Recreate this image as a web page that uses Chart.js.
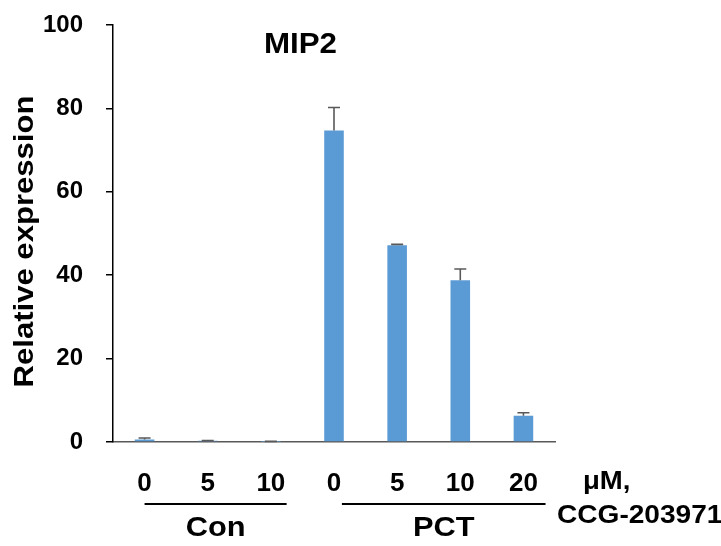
<!DOCTYPE html>
<html>
<head>
<meta charset="utf-8">
<script src="https://cdn.jsdelivr.net/npm/chart.js@4.4.1/dist/chart.umd.min.js"></script>
<style>
html,body{margin:0;padding:0;background:#fff;}
#wrap{width:721px;height:546px;position:relative;}
</style>
</head>
<body>
<div id="wrap"><canvas id="c" width="721" height="546"></canvas></div>
<script>
// Data
const categories = ["0", "5", "10", "0", "5", "10", "20"];
const groups = ["Con", "PCT"];
const groupSizes = [3, 4];
const values = [0.6, 0.3, 0.05, 74.7, 47.2, 38.8, 6.3];
const errors = [0.35, 0.05, 0.1, 5.5, 0.2, 2.7, 0.7];
const yTicks = [0, 20, 40, 60, 80, 100];
const chartTitle = "MIP2";
const yTitle = "Relative expression";
const unitLabel1 = "μM,";
const unitLabel2 = "CCG-203971";

const FONT = "'Liberation Sans', Arial, sans-serif";

function stretchedText(ctx, text, x, y, size, sx, align, rot) {
  ctx.save();
  ctx.translate(x, y);
  if (rot) ctx.rotate(rot);
  ctx.scale(sx, 1);
  ctx.font = "bold " + size + "px " + FONT;
  ctx.textAlign = align;
  ctx.textBaseline = 'middle';
  ctx.fillStyle = '#000';
  ctx.fillText(text, 0, 0);
  ctx.restore();
}

const errorBarPlugin = {
  id: 'errorBars',
  afterDatasetsDraw(chart) {
    const ctx = chart.ctx;
    const x = chart.scales.x, y = chart.scales.y;
    ctx.save();
    ctx.strokeStyle = '#595959';
    ctx.lineWidth = 1.6;
    values.forEach((v, i) => {
      const px = x.getPixelForValue(i);
      const top = y.getPixelForValue(v + errors[i]);
      const base = y.getPixelForValue(v);
      ctx.beginPath();
      ctx.moveTo(px, base);
      ctx.lineTo(px, top);
      ctx.moveTo(px - 6, top);
      ctx.lineTo(px + 6, top);
      ctx.stroke();
    });
    ctx.restore();
  }
};

const decorPlugin = {
  id: 'decor',
  afterDraw(chart) {
    const ctx = chart.ctx;
    const x = chart.scales.x, y = chart.scales.y;
    const area = chart.chartArea;
    // title
    stretchedText(ctx, chartTitle, x.getPixelForValue(2.5) - 2, 45, 29, 1.08, 'center');
    // y axis title
    stretchedText(ctx, yTitle, 25, (y.top + y.bottom) / 2 + 8, 28, 1.11, 'center', -Math.PI / 2);
    // group lines
    const half = (x.getPixelForValue(1) - x.getPixelForValue(0)) / 2;
    const lineY = 504;
    let start = 0;
    groups.forEach((g, gi) => {
      const end = start + groupSizes[gi] - 1;
      const x0 = x.getPixelForValue(start) + (gi === 0 ? 0 : 0.25 * half);
      const x1 = x.getPixelForValue(end) + (gi === 0 ? 0.5 * half : 0.7 * half);
      ctx.save();
      ctx.strokeStyle = '#000';
      ctx.lineWidth = 2;
      ctx.beginPath();
      ctx.moveTo(x0, lineY);
      ctx.lineTo(x1, lineY);
      ctx.stroke();
      ctx.restore();
      stretchedText(ctx, g, (x0 + x1) / 2, 528, 28, 1.1, 'center');
      start = end + 1;
    });
    // unit labels
    stretchedText(ctx, unitLabel1, area.right + 28, 482, 26, 1.06, 'left');
    stretchedText(ctx, unitLabel2, area.right + 2, 516, 26, 1.08, 'left');
  }
};

new Chart(document.getElementById('c'), {
  type: 'bar',
  data: {
    labels: categories,
    datasets: [{
      data: values,
      backgroundColor: '#5B9BD5',
      borderWidth: 0,
      barPercentage: 0.31,
      categoryPercentage: 1.0
    }]
  },
  options: {
    responsive: false,
    animation: false,
    devicePixelRatio: 1,
    layout: { padding: { left: 0, top: 25, right: 166, bottom: 0 } },
    plugins: { legend: { display: false }, tooltip: { enabled: false }, title: { display: false } },
    scales: {
      x: {
        grid: { display: true, drawOnChartArea: false, drawTicks: false },
        border: { display: true, color: '#595959', width: 1.5 },
        ticks: { color: '#000', font: { family: FONT, size: 26, weight: 'bold' }, padding: 26, maxRotation: 0, autoSkip: false },
        afterFit(s) { s.height = 104; }
      },
      y: {
        min: 0, max: 100,
        afterBuildTicks(s) { s.ticks = yTicks.map(v => ({ value: v })); },
        grid: { display: true, drawOnChartArea: false, drawTicks: true, tickLength: 7, color: '#000', lineWidth: 1.5 },
        border: { display: true, color: '#000', width: 1.5 },
        ticks: { color: '#000', font: { family: FONT, size: 24, weight: 'bold' }, padding: 23 },
        title: { display: false },
        afterFit(s) { s.width = 113; s.paddingTop = 0; s.paddingBottom = 0; }
      }
    }
  },
  plugins: [errorBarPlugin, decorPlugin]
});
</script>
</body>
</html>
